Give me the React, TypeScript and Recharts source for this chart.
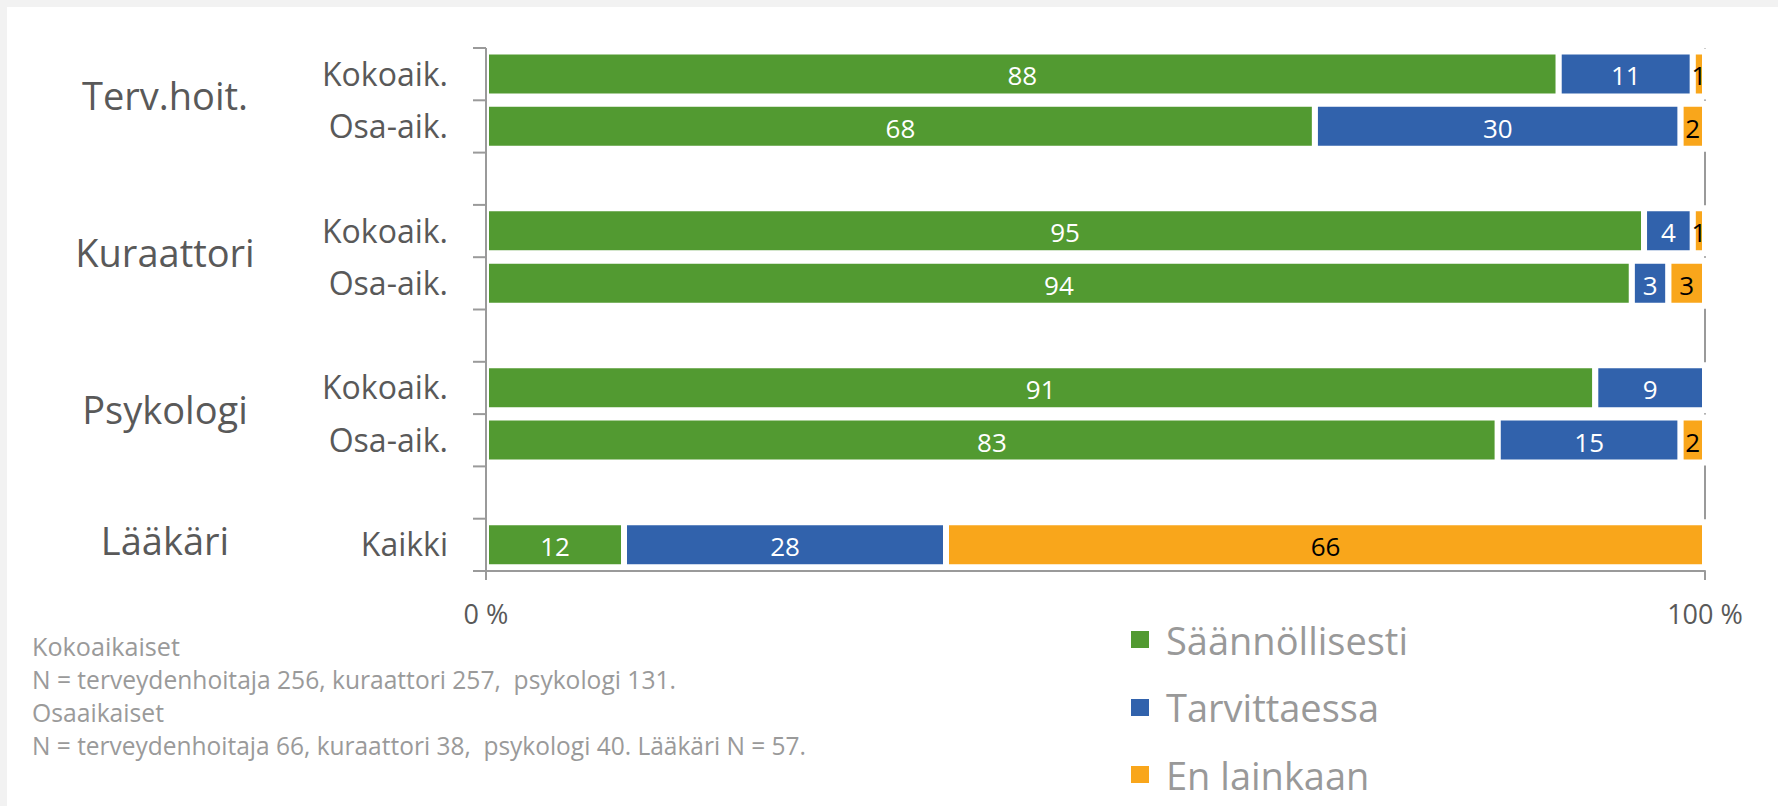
import React from "react";
import { BarChart, Bar, XAxis, YAxis, CartesianGrid, Legend, LabelList } from "recharts";

// ---- data ----
const groupNames = ["Terv.hoit.", "Kuraattori", "Psykologi", "Lääkäri"];
const rowLabels = ["Kokoaik.", "Osa-aik.", "", "Kokoaik.", "Osa-aik.", "", "Kokoaik.", "Osa-aik.", "", "Kaikki"];
const rowGroup: (number | null)[] = [0, 0, null, 1, 1, null, 2, 2, null, 3];
const saannollisesti: (number | null)[] = [88, 68, null, 95, 94, null, 91, 83, null, 12];
const tarvittaessa: (number | null)[] = [11, 30, null, 4, 3, null, 9, 15, null, 28];
const enLainkaan: (number | null)[] = [1, 2, null, 1, 3, null, 0, 2, null, 66];
const seriesNames = ["Säännöllisesti", "Tarvittaessa", "En lainkaan"];
const xTicks = [0, 1];
const noteLines = [
  "Kokoaikaiset",
  "N = terveydenhoitaja 256, kuraattori 257,  psykologi 131.",
  "Osaaikaiset",
  "N = terveydenhoitaja 66, kuraattori 38,  psykologi 40. Lääkäri N = 57.",
];

// ---- styles ----
const W = 1778;
const H = 806;
const FONT = "'Open Sans', sans-serif";
const COLORS = ["#529A31", "#3162AC", "#F9A61B"];
const LABEL_COLORS = ["#ffffff", "#ffffff", "#000000"];
const AXIS_GRAY = "#9a9a9a";
const TEXT_GRAY = "#595959";
const noteLengths = [148, 644, 132, 774];

const data = rowLabels.map((label, i) => ({
  idx: i,
  label,
  s1: saannollisesti[i],
  s2: tarvittaessa[i],
  s3: enLainkaan[i],
}));

function YTick(props: any) {
  const { x, y, payload } = props;
  const i = Number(payload.value);
  const half = payload.offset || 26.15;
  const els: any[] = [];
  els.push(
    <line key="t" x1={x - 13} x2={x} y1={y - half} y2={y - half} stroke={AXIS_GRAY} strokeWidth={2} />
  );
  if (i === rowLabels.length - 1) {
    els.push(
      <line key="b" x1={x - 13} x2={x} y1={y + half} y2={y + half} stroke={AXIS_GRAY} strokeWidth={2} />
    );
  }
  if (rowLabels[i]) {
    els.push(
      <text key="l" x={x - 38} y={y + 11.5} textAnchor="end" fontSize={32} fontFamily={FONT} fill={TEXT_GRAY}>
        {rowLabels[i]}
      </text>
    );
  }
  const g = rowGroup[i];
  if (g !== null && (i === 0 || rowGroup[i - 1] !== g)) {
    let n = 0;
    for (let j = i; j < rowGroup.length && rowGroup[j] === g; j++) n++;
    const mid = y + (n - 1) * half;
    els.push(
      <text key="g" x={x - 321} y={mid + 10} textAnchor="middle" fontSize={38} fontFamily={FONT} fill={TEXT_GRAY}>
        {groupNames[g]}
      </text>
    );
  }
  return <g>{els}</g>;
}

const makeLabel = (fill: string) => (p: any) => {
  const { x, y, width, height, value } = p;
  if (value === null || value === undefined || value === 0) return null;
  return (
    <text
      x={Number(x) + Number(width) / 2}
      y={Number(y) + Number(height) / 2 + 11.5}
      textAnchor="middle"
      fontSize={26}
      fontFamily={FONT}
      fill={fill}
    >
      {value}
    </text>
  );
};

function LegendContent(props: any) {
  const items = [...(props.payload || [])].sort(
    (a: any, b: any) => seriesNames.indexOf(a.value) - seriesNames.indexOf(b.value)
  );
  return (
    <div>
      {items.map((it: any, k: number) => (
        <div key={k} style={{ height: 67.5, display: "flex", alignItems: "center" }}>
          <div style={{ width: 18, height: 17, background: it.color }} />
          <div
            style={{
              marginLeft: 17,
              fontSize: 38,
              lineHeight: "38px",
              fontFamily: FONT,
              color: "#999999",
              whiteSpace: "nowrap",
            }}
          >
            {it.value}
          </div>
        </div>
      ))}
    </div>
  );
}

export default function App() {
  return (
    <div style={{ position: "relative", width: W, height: H, background: "#f2f2f2", overflow: "hidden" }}>
      <style>{`body{margin:0}`}</style>
      <div style={{ position: "absolute", left: 7, top: 7, width: W - 7, height: H - 7, background: "#ffffff" }} />
      <div style={{ position: "absolute", left: 0, top: 0 }}>
        <BarChart
          width={W}
          height={H}
          data={data}
          layout="vertical"
          stackOffset="expand"
          barCategoryGap="6.6%"
          margin={{ top: 48, right: 73, bottom: 205, left: 46 }}
        >
          <CartesianGrid horizontal={false} vertical={true} stroke={AXIS_GRAY} strokeWidth={2} />
          <Bar dataKey="s1" name={seriesNames[0]} stackId="a" fill={COLORS[0]} stroke="#ffffff" strokeWidth={6} isAnimationActive={false}>
            <LabelList dataKey="s1" content={makeLabel(LABEL_COLORS[0])} />
          </Bar>
          <Bar dataKey="s2" name={seriesNames[1]} stackId="a" fill={COLORS[1]} stroke="#ffffff" strokeWidth={6} isAnimationActive={false}>
            <LabelList dataKey="s2" content={makeLabel(LABEL_COLORS[1])} />
          </Bar>
          <Bar dataKey="s3" name={seriesNames[2]} stackId="a" fill={COLORS[2]} stroke="#ffffff" strokeWidth={6} isAnimationActive={false}>
            <LabelList dataKey="s3" content={makeLabel(LABEL_COLORS[2])} />
          </Bar>
          <XAxis
            type="number"
            domain={[0, 1]}
            ticks={xTicks}
            tickFormatter={(v: number) => `${Math.round(v * 100)} %`}
            height={30}
            axisLine={{ stroke: AXIS_GRAY, strokeWidth: 2 }}
            tickLine={{ stroke: AXIS_GRAY, strokeWidth: 2 }}
            tickSize={9}
            tickMargin={25}
            tick={{ fontSize: 27, fontFamily: FONT, fill: TEXT_GRAY }}
          />
          <YAxis
            type="category"
            dataKey="idx"
            width={440}
            interval={0}
            tickSize={0}
            tickMargin={0}
            tickLine={false}
            axisLine={{ stroke: AXIS_GRAY, strokeWidth: 2 }}
            tick={(p: any) => <YTick {...p} />}
          />
          <Legend
            layout="vertical"
            align="center"
            verticalAlign="middle"
            wrapperStyle={{ left: 1131, top: 606, width: 420, height: 210 }}
            content={(p: any) => <LegendContent {...p} />}
          />
        </BarChart>
      </div>
      <svg width={W} height={H} style={{ position: "absolute", left: 0, top: 0, pointerEvents: "none" }}>
        {noteLines.map((t, k) => (
          <text
            key={k}
            x={32}
            y={656 + k * 33}
            fontSize={25}
            fontFamily={FONT}
            fill="#9a9a9a"
            textLength={noteLengths[k]}
            lengthAdjust="spacingAndGlyphs"
            style={{ whiteSpace: "pre" }}
          >
            {t}
          </text>
        ))}
      </svg>
    </div>
  );
}
